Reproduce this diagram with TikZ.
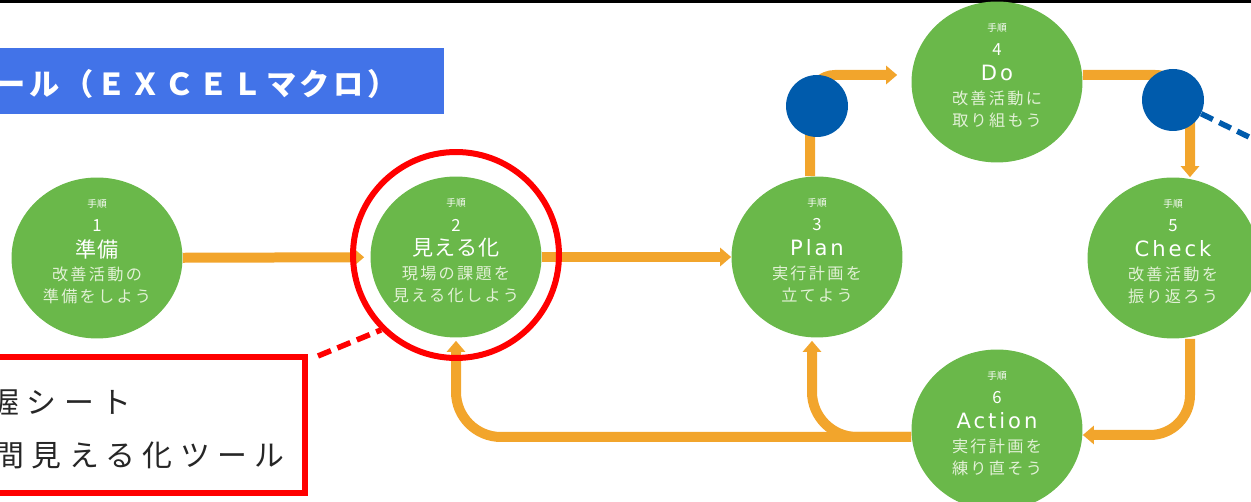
\documentclass[tikz,border=0pt]{standalone}
\usepackage{fontspec}
\setmainfont{Noto Sans CJK JP}
\setsansfont{Noto Sans CJK JP}
\newfontfamily\bannerfont[LetterSpace=12]{Noto Sans CJK JP}
\newfontfamily\boxfont[LetterSpace=25]{Noto Sans CJK JP}
\newfontfamily\stepfont[LetterSpace=6]{Noto Sans CJK JP}
\newfontfamily\subfont[LetterSpace=14]{Noto Sans CJK JP}
\newfontfamily\latinfont[LetterSpace=14]{DejaVu Sans}
\usetikzlibrary{arrows.meta,shapes.geometric,positioning,calc}
\tikzset{%
  stepnode/.style={ellipse,fill=stepgreen,minimum width=3.42cm,minimum height=3.22cm,inner sep=0pt},
  flowarrow/.style={draw=floworange,line width=0.2cm,-{Triangle[width=0.36cm,length=0.22cm]}},
  bluedot/.style={circle,fill=dotblue,minimum size=1.24cm,inner sep=0pt},
  steplabel/.style={inner sep=0pt,text=white}
}

\begin{document}
\begin{tikzpicture}[x=0.02cm,y=-0.02cm,font=\sffamily]
% ---- colors ----
\definecolor{stepgreen}{HTML}{6AB84A}   % step circles
\definecolor{steptext}{HTML}{E2F1D6}    % pale sub text
\definecolor{floworange}{HTML}{F2A52C}  % flow arrows
\definecolor{dotblue}{HTML}{005BAC}     % blue markers
\definecolor{bannerblue}{HTML}{4273E8}  % title banner
\definecolor{markred}{HTML}{FF0000}     % red highlight

% page frame (pixel units, y down)
\useasboundingbox (0,0) rectangle (1251,502);
\clip (0,0) rectangle (1251,502);

% ===================== top rule + banner =====================
\draw[line width=0.06cm] (0,1.5) -- (1251,1.5);
\node[fill=bannerblue,minimum width=9.2cm,minimum height=1.32cm,inner sep=0pt,outer sep=0pt,anchor=north east] (banner) at (444,48) {};
\node[anchor=west,inner sep=0pt,text=white,font=\bannerfont\bfseries\fontsize{17.2}{19}\selectfont] (bannertext) at (-5,84) {ール（ＥＸＣＥＬマクロ）};

% ===================== step circle macro =====================
% #1 name, #2 x, #3 y, #4 number, #5 title, #6 line 1, #7 line 2
\newcommand{\stepcircle}[7]{
  \node[stepnode] (#1) at (#2,#3) {};
  \node[steplabel,font=\fontsize{5.5}{6}\selectfont] (#1-head) at ($(#1)+(0,-54)$) {手順};
  \node[steplabel,font=\stepfont\fontsize{9.5}{10}\selectfont] (#1-num) at ($(#1)+(0,-32)$) {#4};
  \node[steplabel,font=\stepfont\fontsize{12}{13}\selectfont] (#1-title) at ($(#1)+(0,-9)$) {#5};
  \node[steplabel,text=steptext,font=\subfont\fontsize{9.2}{10}\selectfont] (#1-a) at ($(#1)+(0,16)$) {#6};
  \node[steplabel,text=steptext,font=\subfont\fontsize{9.2}{10}\selectfont] (#1-b) at ($(#1)+(0,38)$) {#7};
}

% ---- six steps ----
\stepcircle{step1}{97}{258}{1}{準備}{改善活動の}{準備をしよう}
\stepcircle{step2}{456}{257}{2}{見える化}{現場の課題を}{見える化しよう}
\stepcircle{step3}{817}{257}{3}{\latinfont Plan}{実行計画を}{立てよう}
\stepcircle{step4}{997}{82}{4}{\latinfont Do}{改善活動に}{取り組もう}
\stepcircle{step5}{1173}{258}{5}{\latinfont Check}{改善活動を}{振り返ろう}
\stepcircle{step6}{997}{430}{6}{\latinfont Action}{実行計画を}{練り直そう}

% ===================== flow arrows =====================
\draw[flowarrow,shorten >=0.12cm] (step1) -- (step2);
\draw[flowarrow] (step2) -- (step3);
\draw[flowarrow,rounded corners=0.5cm,shorten >=0.28cm] ([xshift=-0.14cm]step3.north) |- ([yshift=0.14cm]step4.west);
\draw[flowarrow,rounded corners=0.7cm] ([yshift=0.14cm]step4.east) -| ([xshift=0.34cm]step5.north);
\draw[flowarrow,rounded corners=0.8cm] ([xshift=0.34cm]step5.south) |- ([yshift=-0.1cm]step6.east);
\draw[flowarrow,rounded corners=0.9cm,shorten >=0.06cm] ([yshift=-0.14cm]step6.west) -| (step2.south);
\draw[flowarrow,rounded corners=0.9cm,shorten >=0.06cm] ([yshift=-0.14cm]step6.west) -| ([xshift=-0.1cm]step3.south);

% ===================== red highlight =====================
\node[circle,draw=markred,line width=0.12cm,minimum size=4.12cm,inner sep=0pt] (focus) at (456,255) {};
\node[draw=markred,line width=0.12cm,minimum width=6.5cm,minimum height=2.72cm,outer sep=0pt,anchor=north east] (toolbox) at (305,357) {};
\node[anchor=west,inner sep=0pt,font=\boxfont\fontsize{17}{20}\selectfont,text=black!85] (sheet) at (-11,402) {握シート};
\node[anchor=west,inner sep=0pt,font=\boxfont\fontsize{17}{20}\selectfont,text=black!85] (tool) at (-6,455) {間見える化ツール};
\coordinate (dashstart) at (318,356);
\draw[markred,line width=0.11cm,dash pattern=on 0.28cm off 0.14cm] (dashstart) -- (focus.225);

% ===================== blue markers =====================
\node[bluedot] (dot1) at (817,106) {};
\node[bluedot] (dot2) at (1173,100) {};
\coordinate (bluetail) at (1290,157);
\draw[dotblue,line width=0.11cm,dash pattern=on 0.26cm off 0.14cm] (dot2) -- (bluetail);

\end{tikzpicture}
\end{document}
